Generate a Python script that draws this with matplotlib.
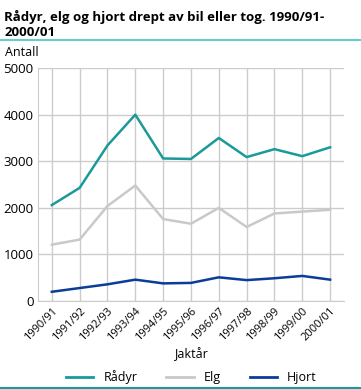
import matplotlib.pyplot as plt
from matplotlib.lines import Line2D

seasons = ["1990/91", "1991/92", "1992/93", "1993/94", "1994/95", "1995/96",
           "1996/97", "1997/98", "1998/99", "1999/00", "2000/01"]
radyr = [2060, 2430, 3340, 4000, 3060, 3050, 3500, 3090, 3260, 3110, 3300]
elg = [1210, 1320, 2040, 2480, 1760, 1660, 2000, 1590, 1880, 1920, 1960]
hjort = [200, 280, 360, 460, 380, 390, 510, 450, 490, 540, 460]

series = [("Rådyr", radyr, "#1a9a98"), ("Elg", elg, "#c9c9c9"), ("Hjort", hjort, "#0b3c9a")]

plt.rcParams['font.family'] = ['Open Sans', 'DejaVu Sans']

fig = plt.figure(figsize=(3.61, 3.89), dpi=100)
ax = fig.add_axes([0.105, 0.226, 0.848, 0.599])

x = range(len(seasons))
for name, vals, col in series:
    ax.plot(x, vals, color=col, lw=1.8, label=name, zorder=3)

ax.set_xlim(-0.5, len(seasons) - 0.5)
ax.set_ylim(0, 5000)
ax.set_yticks(range(0, 5001, 1000))
ax.set_xticks(list(x))
ax.set_xticklabels(seasons, rotation=45, ha='right', rotation_mode='anchor', fontsize=8)
ax.tick_params(axis='y', labelsize=9.5, length=0, pad=3)
ax.tick_params(axis='x', length=0, pad=3)
ax.grid(True, color='#cccccc', lw=1)
ax.set_axisbelow(True)
for s in ['top', 'right']:
    ax.spines[s].set_visible(False)
for s in ['left', 'bottom']:
    ax.spines[s].set_color('#cccccc')
ax.set_xlabel("Jaktår", fontsize=9, labelpad=3)

fig.text(0.012, 0.975, "Rådyr, elg og hjort drept av bil eller tog. 1990/91-\n2000/01",
         fontsize=9.5, fontweight='bold', va='top', ha='left', linespacing=1.25)
fig.add_artist(Line2D([0, 1], [0.897, 0.897], color='#66cccc', lw=1.5))
fig.text(0.015, 0.865, "Antall", fontsize=9, va='center', ha='left')

handles = [Line2D([], [], color=c, lw=2) for _, _, c in series]
fig.legend(handles, [n for n, _, _ in series], loc='center', bbox_to_anchor=(0.53, 0.03),
           ncol=3, frameon=False, fontsize=9, handlelength=2.2, columnspacing=2.3)
fig.add_artist(Line2D([0, 1], [0.003, 0.003], color='#1a9a98', lw=1.5))

fig.savefig("out.png", dpi=100)
